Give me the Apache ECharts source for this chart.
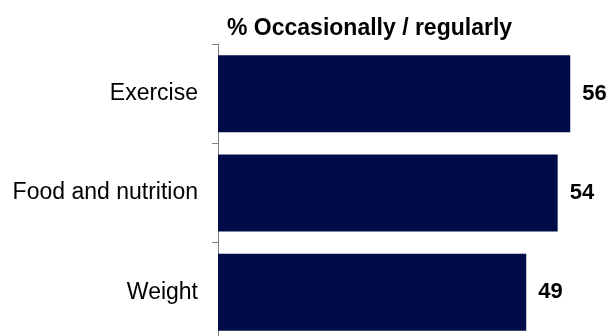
<!DOCTYPE html>
<html>
<head>
<meta charset="utf-8">
<script src="https://cdn.jsdelivr.net/npm/echarts@6/dist/echarts.min.js"></script>
<style>html,body{margin:0;padding:0;background:#fff;}#c{width:609px;height:336px;}</style>
</head>
<body>
<div id="c"></div>
<script>
const categories = ["Exercise", "Food and nutrition", "Weight"];
const values = [56, 54, 49];
const titleText = "% Occasionally / regularly";

const chart = echarts.init(document.getElementById('c'), null, {renderer: 'canvas'});
chart.setOption({
  animation: false,
  backgroundColor: '#ffffff',
  title: {
    text: titleText,
    left: 222,
    top: 12,
    textStyle: {fontFamily: 'Liberation Sans, Arial', fontSize: 23, fontWeight: 'bold', color: '#000'}
  },
  grid: {left: 218, top: 44, width: 390, bottom: -6, containLabel: false, outerBoundsMode: 'none'},
  xAxis: {type: 'value', min: 0, max: 62, show: false},
  yAxis: {
    type: 'category',
    data: categories,
    inverse: true,
    axisLine: {show: true, lineStyle: {color: '#7f7f7f', width: 1}},
    axisTick: {show: true, length: 6, lineStyle: {color: '#7f7f7f'}},
    axisLabel: {margin: 20, fontFamily: 'Liberation Sans, Arial', fontSize: 23, color: '#000'}
  },
  series: [{
    type: 'bar',
    data: values,
    barWidth: 77,
    itemStyle: {color: '#000c48'},
    label: {
      show: true,
      position: 'right',
      distance: 12,
      fontFamily: 'Liberation Sans, Arial',
      fontSize: 22,
      fontWeight: 'bold',
      color: '#000'
    }
  }]
});
</script>
</body>
</html>
